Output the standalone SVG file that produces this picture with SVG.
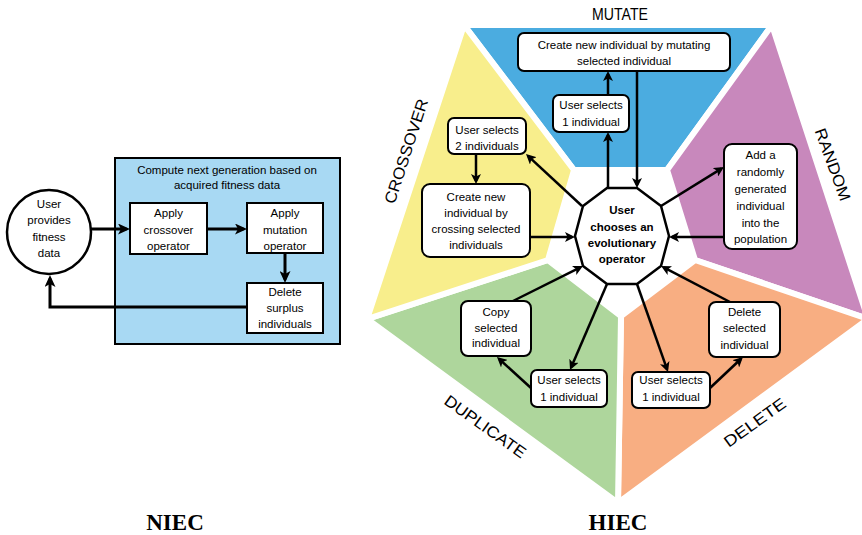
<svg xmlns="http://www.w3.org/2000/svg" width="862" height="535" viewBox="0 0 862 535">
<style>
.t{font-family:"Liberation Sans",Arial,sans-serif;font-size:11.5px;text-anchor:middle;fill:#000}
.b{font-weight:bold}
.box{fill:#fff;stroke:#000;stroke-width:2}
.c{fill:none;stroke:#000;stroke-width:2.5;marker-end:url(#ah)}
.c3{fill:none;stroke:#000;stroke-width:3;marker-end:url(#ah2)}
.seg{stroke:#fff;stroke-width:6;stroke-linejoin:miter}
.lbl{font-family:"Liberation Sans",Arial,sans-serif;font-size:16px;text-anchor:middle;fill:#000}
.cap{font-family:"Liberation Serif","Times New Roman",serif;font-weight:bold;font-size:23px;text-anchor:middle;fill:#000}
</style>
<defs>
<marker id="ah" markerUnits="userSpaceOnUse" markerWidth="11" markerHeight="10" viewBox="0 0 11 10" refX="7" refY="5" orient="auto"><path d="M0,0 L10,5 L0,10 L2.5,5 z" fill="#000"/></marker>
<marker id="ah2" markerUnits="userSpaceOnUse" markerWidth="12" markerHeight="11" viewBox="0 0 12 11" refX="8.5" refY="5.5" orient="auto"><path d="M0,0 L12,5.5 L0,11 L3,5.5 z" fill="#000"/></marker>
</defs>
<rect width="862" height="535" fill="#fff"/>

<!-- NIEC -->
<g id="niec-frame">
<rect x="115" y="158" width="225" height="186" fill="#A8D9F3" stroke="#000" stroke-width="2"/>
<text class="t" x="227" y="174">Compute next generation based on</text>
<text class="t" x="227" y="189">acquired fitness data</text>
</g>
<g id="niec-user">
<circle cx="49" cy="232" r="42" fill="#fff" stroke="#000" stroke-width="2.5"/>
<text class="t" x="49" y="207.5">User</text>
<text class="t" x="49" y="224">provides</text>
<text class="t" x="49" y="240.5">fitness</text>
<text class="t" x="49" y="257">data</text>
</g>
<g id="niec-crossover">
<rect class="box" x="130" y="203" width="77" height="51"/>
<text class="t" x="168.5" y="217">Apply</text>
<text class="t" x="168.5" y="233.5">crossover</text>
<text class="t" x="168.5" y="250">operator</text>
</g>
<g id="niec-mutation">
<rect class="box" x="247" y="203" width="76" height="50"/>
<text class="t" x="285" y="217">Apply</text>
<text class="t" x="285" y="233.5">mutation</text>
<text class="t" x="285" y="250">operator</text>
</g>
<g id="niec-delete">
<rect class="box" x="247" y="283" width="76" height="50"/>
<text class="t" x="285" y="296">Delete</text>
<text class="t" x="285" y="312">surplus</text>
<text class="t" x="285" y="328">individuals</text>
</g>
<g id="niec-connectors">
<path class="c3" d="M91,229 H126.5"/>
<path class="c3" d="M207,229 H243.5"/>
<path class="c3" d="M285,253 V279.5"/>
<path class="c3" d="M247,307 H50 V278.5"/>
</g>
<text class="cap" x="175" y="530">NIEC</text>

<!-- HIEC segments -->
<g id="segments">
<polygon id="seg-mutate" class="seg" fill="#4BACE0" points="464,25 772,25 667,170 574,170"/>
<polygon id="seg-random" class="seg" fill="#C888BC" points="772,25 868,319 695,260 667,170"/>
<polygon id="seg-delete" class="seg" fill="#F8AE82" points="868,319 618,503 621,316 695,260"/>
<polygon id="seg-duplicate" class="seg" fill="#AED69C" points="618,503 367,319 548,260 621,316"/>
<polygon id="seg-crossover" class="seg" fill="#F8EE8C" points="367,319 464,25 574,170 548,260"/>
</g>
<g id="labels">
<text class="lbl" x="620" y="20" textLength="56" lengthAdjust="spacingAndGlyphs">MUTATE</text>
<text class="lbl" transform="translate(411.4,152.9) rotate(-72)" textLength="109" lengthAdjust="spacingAndGlyphs">CROSSOVER</text>
<text class="lbl" transform="translate(827.6,166.5) rotate(70)" textLength="76" lengthAdjust="spacingAndGlyphs">RANDOM</text>
<text class="lbl" transform="translate(482,431) rotate(35.5)" textLength="96" lengthAdjust="spacingAndGlyphs">DUPLICATE</text>
<text class="lbl" transform="translate(758,427) rotate(-35.6)" textLength="72" lengthAdjust="spacingAndGlyphs">DELETE</text>
</g>

<g id="hub">
<polygon fill="#fff" stroke="#000" stroke-width="2.5" points="607,188 637,188 661,206 669,236 661,266 637,284 607,284 583,266 575,236 583,206"/>
<text class="t b" x="622" y="214">User</text>
<text class="t b" x="622" y="231">chooses an</text>
<text class="t b" x="622" y="247">evolutionary</text>
<text class="t b" x="622" y="263">operator</text>
</g>
<g id="mutate-create">
<rect class="box" x="518" y="33" width="212" height="38" rx="6"/>
<text class="t" x="624" y="49">Create new individual by mutating</text>
<text class="t" x="624" y="65">selected individual</text>
</g>
<g id="mutate-select">
<rect class="box" x="553" y="95" width="76" height="37" rx="6"/>
<text class="t" x="591" y="109">User selects</text>
<text class="t" x="591" y="126">1 individual</text>
</g>
<g id="crossover-select">
<rect class="box" x="448" y="118" width="78" height="36" rx="6"/>
<text class="t" x="487" y="134">User selects</text>
<text class="t" x="487" y="150">2 individuals</text>
</g>
<g id="crossover-create">
<rect class="box" x="422" y="184" width="108" height="73" rx="8"/>
<text class="t" x="476" y="201">Create new</text>
<text class="t" x="476" y="217">individual by</text>
<text class="t" x="476" y="233">crossing selected</text>
<text class="t" x="476" y="249">individuals</text>
</g>
<g id="random-add">
<rect class="box" x="724" y="144" width="73" height="105" rx="8"/>
<text class="t" x="760.5" y="159">Add a</text>
<text class="t" x="760.5" y="176">randomly</text>
<text class="t" x="760.5" y="193">generated</text>
<text class="t" x="760.5" y="210">individual</text>
<text class="t" x="760.5" y="227">into the</text>
<text class="t" x="760.5" y="243">population</text>
</g>
<g id="duplicate-copy">
<rect class="box" x="461" y="301" width="70" height="55" rx="7"/>
<text class="t" x="496" y="316">Copy</text>
<text class="t" x="496" y="332">selected</text>
<text class="t" x="496" y="347">individual</text>
</g>
<g id="duplicate-select">
<rect class="box" x="531" y="370" width="76" height="37" rx="6"/>
<text class="t" x="569" y="384">User selects</text>
<text class="t" x="569" y="401">1 individual</text>
</g>
<g id="delete-selected">
<rect class="box" x="709" y="302" width="71" height="55" rx="7"/>
<text class="t" x="744.5" y="316">Delete</text>
<text class="t" x="744.5" y="332">selected</text>
<text class="t" x="744.5" y="349">individual</text>
</g>
<g id="delete-select">
<rect class="box" x="632" y="372" width="78" height="36" rx="6"/>
<text class="t" x="671" y="384">User selects</text>
<text class="t" x="671" y="401">1 individual</text>
</g>

<g id="hiec-connectors">
<path class="c" d="M608,188 V135"/>
<path class="c" d="M608,95 V74"/>
<path class="c" d="M637,71 V185"/>
<path class="c" d="M582,206 L528.2,156.1"/>
<path class="c" d="M476,154 V181"/>
<path class="c" d="M530,237 H572"/>
<path class="c" d="M661,206 L721.4,168.6"/>
<path class="c" d="M724,237 H672"/>
<path class="c" d="M513,301 L580.3,267.3"/>
<path class="c" d="M607,284 L571.2,367.2"/>
<path class="c" d="M531,388 L499.2,359"/>
<path class="c" d="M637,284 L667,369.2"/>
<path class="c" d="M710,388 L740.8,359"/>
<path class="c" d="M730,302 L663.7,267.4"/>
</g>
<text class="cap" x="618" y="530">HIEC</text>
</svg>
